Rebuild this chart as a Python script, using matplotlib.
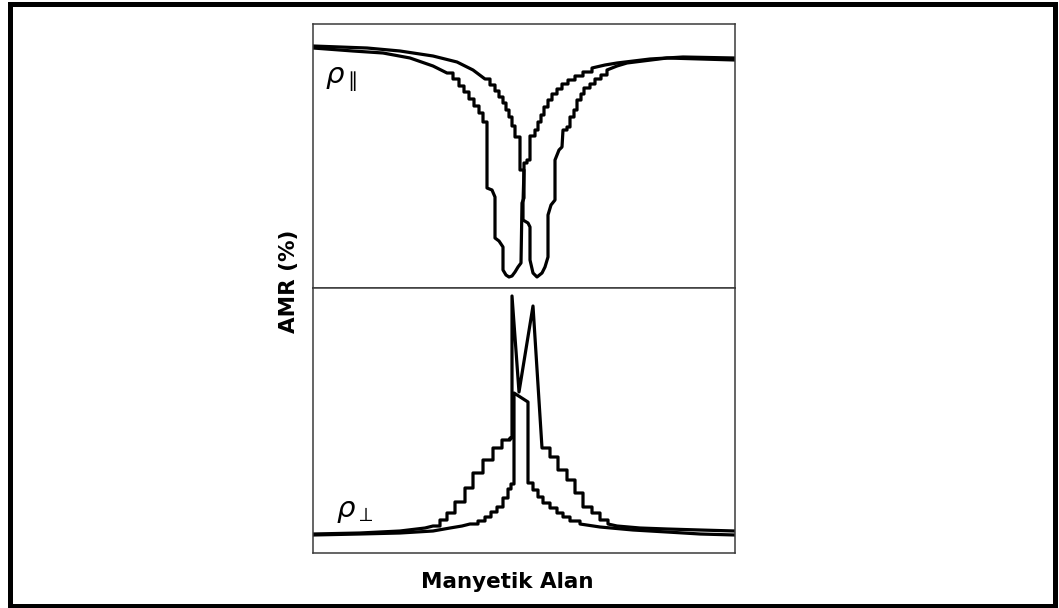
import matplotlib
matplotlib.use("Agg")
import matplotlib.pyplot as plt
from matplotlib.patches import Rectangle

# Magnetic field (arbitrary units, zero field at centre) and AMR (arbitrary units).
# Each branch is stored as consecutive pieces; "step" pieces are digitised
# staircase data (hold value, then jump), "line" pieces are joined directly.

# ---- rho_parallel, branch with its minimum at negative field ----
par1_a_H = [-211, -171, -141, -114, -91, -77]
par1_a_R = [240, 237, 235, 230, 222, 215]
par1_b_H = [-77, -71, -65, -60, -55, -50, -45, -41, -37]
par1_b_R = [215, 209, 202, 196, 189, 182, 175, 166, 155]
par1_c_H = [-37, -37, -32, -29, -29, -25, -21, -21, -18, -15, -12, -9, -6, -3, -2, 0, 0]
par1_c_R = [155, 100, 98, 91, 50, 47, 41, 18, 13, 11, 12, 16, 21, 25, 85, 90, 125]
par1_d_H = [0, 3, 6, 11, 14, 17, 20, 24, 28, 33, 38, 44, 51, 59, 68]
par1_d_R = [125, 128, 152, 158, 166, 173, 181, 188, 194, 199, 204, 208, 212, 216, 220]
par1_e_H = [68, 81, 93, 126, 159, 211]
par1_e_R = [220, 223, 225, 229, 231, 230]

# ---- rho_parallel, branch with its minimum at positive field ----
par2_a_H = [-211, -157, -124, -91, -67, -51, -39]
par2_a_R = [242, 240, 237, 232, 226, 218, 209]
par2_b_H = [-39, -34, -29, -25, -21, -18, -15, -12, -9, -4]
par2_b_R = [209, 203, 197, 191, 185, 178, 171, 162, 151, 118]
par2_c_H = [-4, 0, -1, -1, 4, 6, 6, 9, 13, 18, 21, 24, 24, 27, 31, 31, 35, 38, 39]
par2_c_R = [118, 118, 85, 68, 65, 61, 28, 15, 11, 15, 21, 31, 73, 83, 88, 128, 138, 141, 158]
par2_d_H = [39, 43, 46, 50, 53, 57, 60, 66, 71, 77, 83]
par2_d_R = [158, 161, 171, 178, 188, 194, 200, 204, 209, 213, 218]
par2_e_H = [83, 93, 103, 143, 211]
par2_e_R = [218, 222, 225, 230, 228]

# ---- rho_perpendicular, broad branch ----
per1_a_H = [-211, -164, -124, -99, -91]
per1_a_R = [19, 20, 22, 25, 27]
per1_b_H = [-91, -84, -77, -69, -59, -51, -41, -31, -22, -14, -12]
per1_b_R = [27, 33, 40, 51, 65, 80, 93, 105, 113, 115, 257]
per1_c_H = [-12, -5, 9, 18]
per1_c_R = [257, 161, 247, 105]
per1_d_H = [18, 26, 34, 43, 51, 59, 68, 76, 84]
per1_d_R = [105, 96, 83, 73, 60, 46, 40, 33, 29]
per1_e_H = [84, 93, 116, 143, 176, 211]
per1_e_R = [29, 27, 25, 24, 23, 22]

# ---- rho_perpendicular, narrow branch ----
per2_a_H = [-211, -164, -124, -91, -74, -62, -54]
per2_a_R = [18, 19, 20, 22, 25, 27, 29]
per2_b_H = [-54, -46, -39, -33, -27, -21, -16, -13, -10]
per2_b_R = [29, 32, 36, 41, 46, 55, 64, 69, 160]
per2_c_H = [-10, 4, 4]
per2_c_R = [160, 151, 70]
per2_d_H = [4, 9, 14, 19, 26, 33, 39, 46, 56]
per2_d_R = [70, 63, 56, 50, 45, 40, 36, 32, 29]
per2_e_H = [56, 76, 109, 143, 176, 211]
per2_e_R = [29, 26, 23, 21, 19, 18]

par1 = [("line", par1_a_H, par1_a_R), ("step", par1_b_H, par1_b_R),
        ("line", par1_c_H, par1_c_R), ("step", par1_d_H, par1_d_R),
        ("line", par1_e_H, par1_e_R)]
par2 = [("line", par2_a_H, par2_a_R), ("step", par2_b_H, par2_b_R),
        ("line", par2_c_H, par2_c_R), ("step", par2_d_H, par2_d_R),
        ("line", par2_e_H, par2_e_R)]
per1 = [("line", per1_a_H, per1_a_R), ("step", per1_b_H, per1_b_R),
        ("line", per1_c_H, per1_c_R), ("step", per1_d_H, per1_d_R),
        ("line", per1_e_H, per1_e_R)]
per2 = [("line", per2_a_H, per2_a_R), ("step", per2_b_H, per2_b_R),
        ("line", per2_c_H, per2_c_R), ("step", per2_d_H, per2_d_R),
        ("line", per2_e_H, per2_e_R)]


def branch_path(pieces):
    """Join the pieces of one branch into a single polyline."""
    xs, ys = [], []
    for kind, h, r in pieces:
        if kind == "step":
            px, py = [h[0]], [r[0]]
            for i in range(1, len(h)):
                px += [h[i], h[i]]
                py += [r[i - 1], r[i]]
        else:
            px, py = list(h), list(r)
        xs += px
        ys += py
    return xs, ys


W, H = 1059, 608
fig = plt.figure(figsize=(W / 100, H / 100), dpi=100)

ax_top = fig.add_axes([313 / W, 1 - 288 / H, 422 / W, 264 / H])
ax_bot = fig.add_axes([313 / W, 1 - 553 / H, 422 / W, 265 / H])

line_kw = dict(color="black", lw=2.3, solid_joinstyle="round", solid_capstyle="round")
for pieces in (par1, par2):
    ax_top.plot(*branch_path(pieces), **line_kw)
for pieces in (per1, per2):
    ax_bot.plot(*branch_path(pieces), **line_kw)

ax_top.set_ylim(0, 264)
ax_bot.set_ylim(0, 265)
for ax in (ax_top, ax_bot):
    ax.set_xlim(-211, 211)
    ax.set_xticks([])
    ax.set_yticks([])
    for sp in ax.spines.values():
        sp.set_color("#3a3a3a")
        sp.set_linewidth(1.1)

plt.rcParams["mathtext.fontset"] = "dejavusans"
ax_top.text(0.028, 0.79, r"$\rho_{\parallel}$", transform=ax_top.transAxes,
            fontsize=21, ha="left", va="center")
ax_bot.text(0.055, 0.16, r"$\rho_{\perp}$", transform=ax_bot.transAxes,
            fontsize=21, ha="left", va="center")

fig.text(289 / W, 1 - 281 / H, "AMR (%)", rotation=90, ha="center", va="center",
         fontsize=15.5, fontweight="bold", family="DejaVu Sans")
fig.text(507 / W, 1 - 588 / H, "Manyetik Alan", ha="center", va="baseline",
         fontsize=15.5, fontweight="bold", family="DejaVu Sans")

# frame around the whole figure
fig.patches.append(Rectangle((9.5 / W, 2.5 / H), 1045 / W, 602 / H,
                             transform=fig.transFigure, fill=False,
                             edgecolor="black", lw=3.6))

fig.savefig("out.png", dpi=100)
